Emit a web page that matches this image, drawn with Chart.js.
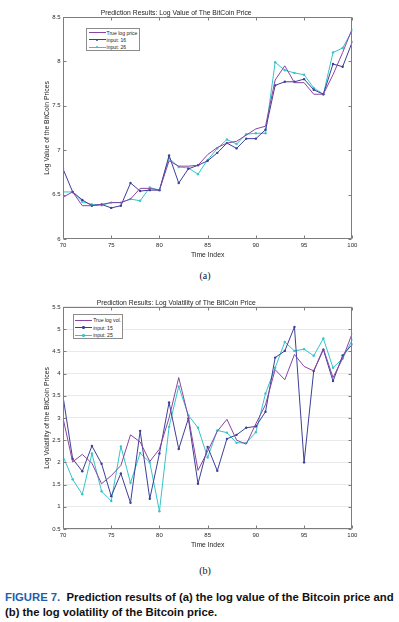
<!DOCTYPE html>
<html>
<head>
<meta charset="utf-8">
<script src="https://cdn.jsdelivr.net/npm/chart.js@4.4.1/dist/chart.umd.min.js"></script>
<style>
html,body{margin:0;padding:0;background:#fff;width:399px;height:622px;overflow:hidden;font-family:"Liberation Sans",Arial,sans-serif;}
.wrap{position:absolute;left:0;width:399px;height:265px;}
.legend{position:absolute;background:#fff;border:1px solid #8c8c8c;box-sizing:border-box;color:#1a1a1a;}
.row{position:absolute;left:0;height:0;}
.ln{position:absolute;height:0;border-top:1px solid;}
.dot{position:absolute;width:2.4px;height:2.4px;border-radius:50%;}
.tx{position:absolute;font-size:5.1px;line-height:6px;white-space:nowrap;}
.sub{position:absolute;left:0;width:410px;text-align:center;font-family:"Liberation Serif","Times New Roman",serif;font-size:10px;line-height:12px;color:#111;}
.cap{position:absolute;left:5px;top:590px;font-weight:bold;font-size:11.3px;line-height:15px;color:#111;white-space:nowrap;}
.cap b{color:#1d5fae;}
</style>
</head>
<body>
<div class="wrap" style="top:0"><canvas id="chartA" width="399" height="265"></canvas></div>
<div class="wrap" style="top:290px"><canvas id="chartB" width="399" height="265"></canvas></div>
<div id="legA" class="legend" style="left:86px;top:28px;width:54px;height:23px;"></div>
<div id="legB" class="legend" style="left:72.7px;top:314.3px;width:50.6px;height:25px;"></div>
<div class="sub" style="top:270px">(a)</div>
<div class="sub" style="top:565px">(b)</div>
<div class="cap"><b>FIGURE 7.</b>&nbsp; Prediction results of (a) the log value of the Bitcoin price and<br>(b) the log volatility of the Bitcoin price.</div>
<script>
// ---------- data ----------
const timeIndex = [70,71,72,73,74,75,76,77,78,79,80,81,82,83,84,85,86,87,88,89,90,91,92,93,94,95,96,97,98,99,100];

// (a) log value of the BitCoin price
const trueLogPrice = [6.47,6.53,6.375,6.375,6.39,6.41,6.41,6.45,6.57,6.57,6.55,6.88,6.82,6.82,6.83,6.95,7.03,7.08,7.10,7.17,7.24,7.27,7.79,7.95,7.76,7.76,7.63,7.63,7.85,8.10,8.37];
const priceInput16 = [6.79,6.53,6.44,6.375,6.39,6.35,6.375,6.63,6.54,6.55,6.55,6.94,6.63,6.79,6.83,6.88,6.97,7.08,7.02,7.13,7.13,7.23,7.73,7.77,7.77,7.80,7.68,7.63,7.97,7.94,8.22];
const priceInput26 = [6.53,6.53,6.42,6.39,6.38,6.41,6.41,6.45,6.43,6.58,6.55,6.91,6.81,6.80,6.73,6.89,7.02,7.12,7.07,7.18,7.19,7.19,7.99,7.90,7.87,7.85,7.70,7.63,8.10,8.15,8.35];

// (b) log volatility of the BitCoin price
const trueLogVol = [3.0,2.01,2.18,1.98,1.52,1.7,1.93,2.62,2.46,2.02,2.3,3.0,3.91,3.02,1.82,2.25,2.7,2.97,2.5,2.41,2.87,3.3,4.09,3.86,4.43,4.16,4.06,4.56,3.91,4.34,4.91];
const volInput15 = [3.49,2.08,1.80,2.37,1.97,1.24,1.75,1.09,2.71,1.18,2.2,3.35,2.3,2.99,1.52,2.35,1.81,2.53,2.62,2.78,2.81,3.14,4.36,4.51,5.05,2.0,4.06,4.54,3.83,4.41,4.66];
const volInput25 = [2.14,1.62,1.28,2.2,1.35,1.13,2.36,1.54,2.21,2.0,0.9,2.8,3.71,3.06,2.78,2.11,2.72,2.67,2.44,2.44,2.68,3.55,4.13,4.71,4.51,4.55,4.4,4.79,4.13,4.34,4.76];

const labelsA = ['True log price','input: 16','input: 26'];
const labelsB = ['True log vol.','input: 15','input: 25'];
const titleA = 'Prediction Results: Log Value of The BitCoin Price';
const titleB = 'Prediction Results: Log Volatility of The BitCoin Price';
const yTitleA = 'Log Value of the BitCoin Prices';
const yTitleB = 'Log Volatility of the BitCoin Prices';
const xTitle = 'Time Index';

// ---------- styling ----------
const COLORS = ['#8a44a3','#3d3f97','#34c4c9'];
const FONT = '"Liberation Sans", Arial, sans-serif';

const framePlugin = {
  id: 'frame',
  afterDatasetsDraw(chart) {
    const {ctx, chartArea: a, scales: {x, y}} = chart;
    ctx.save();
    ctx.strokeStyle = '#7d7d7d';
    ctx.lineWidth = 1;
    const L = Math.round(a.left) + 0.5, R = Math.round(a.right) - 0.5;
    const T = Math.round(a.top) + 0.5, B = Math.round(a.bottom) - 0.5;
    ctx.beginPath();
    ctx.rect(L, T, R - L, B - T);
    const len = 3;
    x.ticks.forEach(t => {
      const px = Math.round(x.getPixelForValue(t.value)) + 0.5;
      ctx.moveTo(px, B); ctx.lineTo(px, B - len);
      ctx.moveTo(px, T); ctx.lineTo(px, T + len);
    });
    y.ticks.forEach(t => {
      const py = Math.round(y.getPixelForValue(t.value)) + 0.5;
      ctx.moveTo(L, py); ctx.lineTo(L + len, py);
      ctx.moveTo(R, py); ctx.lineTo(R - len, py);
    });
    ctx.stroke();
    ctx.restore();
  }
};

function series(vals) { return timeIndex.map((t, i) => ({x: t, y: vals[i]})); }

function makeChart(id, title, yTitle, yMin, yMax, showGrid, labels, data) {
  const datasets = data.map((vals, i) => ({
    label: labels[i],
    data: series(vals),
    borderColor: COLORS[i],
    backgroundColor: COLORS[i],
    borderWidth: 1,
    pointRadius: i === 0 ? 0 : 1.2,
    pointHoverRadius: 0,
    pointBorderWidth: 0,
    tension: 0
  }));
  return new Chart(document.getElementById(id), {
    type: 'line',
    data: {datasets},
    options: {
      responsive: false,
      animation: false,
      events: [],
      layout: {padding: {left: 0, right: 46.7, top: 0, bottom: 0}},
      plugins: {
        legend: {display: false},
        tooltip: {enabled: false},
        title: {
          display: true, text: title, color: '#1f1f1f',
          font: {family: FONT, size: 6.8, weight: 'normal'},
          padding: {top: 8.8, bottom: 0}
        }
      },
      scales: {
        x: {
          type: 'linear', min: 70, max: 100,
          afterFit(s) { s.height = 26; },
          grid: {display: false, drawTicks: false},
          border: {display: false},
          ticks: {stepSize: 5, padding: 3, color: '#2a2a2a', font: {family: FONT, size: 6}, maxRotation: 0},
          title: {display: true, text: xTitle, color: '#1f1f1f', font: {family: FONT, size: 6.8}, padding: {top: 0, bottom: 5.4}}
        },
        y: {
          type: 'linear', min: yMin, max: yMax,
          afterFit(s) { s.width = 63; },
          grid: {display: showGrid, drawTicks: false, color: '#e9e9e9', lineWidth: 1},
          border: {display: false},
          ticks: {stepSize: 0.5, padding: 2.5, color: '#2a2a2a', font: {family: FONT, size: 6},
                  callback: v => String(Math.round(v * 10) / 10)},
          title: {display: true, text: yTitle, color: '#1f1f1f', font: {family: FONT, size: 6.8}, padding: {top: 43, bottom: 0}}
        }
      }
    },
    plugins: [framePlugin]
  });
}

makeChart('chartA', titleA, yTitleA, 6, 8.5, false, labelsA, [trueLogPrice, priceInput16, priceInput26]);
makeChart('chartB', titleB, yTitleB, 0.5, 5.5, true, labelsB, [trueLogVol, volInput15, volInput25]);

// ---------- legends (HTML) ----------
function buildLegend(el, labels, rowsY, lineX0, lineX1, textX) {
  labels.forEach((lab, i) => {
    const row = document.createElement('div');
    row.className = 'row';
    row.style.top = rowsY[i] + 'px';
    const ln = document.createElement('div');
    ln.className = 'ln';
    ln.style.left = lineX0 + 'px';
    ln.style.width = (lineX1 - lineX0) + 'px';
    ln.style.top = '-0.5px';
    ln.style.borderColor = COLORS[i];
    row.appendChild(ln);
    if (i > 0) {
      const d = document.createElement('div');
      d.className = 'dot';
      d.style.background = COLORS[i];
      d.style.left = ((lineX0 + lineX1) / 2 - 1.2) + 'px';
      d.style.top = '-1.2px';
      row.appendChild(d);
    }
    const t = document.createElement('div');
    t.className = 'tx';
    t.textContent = lab;
    t.style.left = textX + 'px';
    t.style.top = '-3px';
    row.appendChild(t);
    el.appendChild(row);
  });
}
buildLegend(document.getElementById('legA'), labelsA, [3.5, 10.8, 18.2], 1.5, 18.5, 19.5);
buildLegend(document.getElementById('legB'), labelsB, [5, 12.3, 20], 1.5, 18.5, 19.5);
</script>
</body>
</html>
